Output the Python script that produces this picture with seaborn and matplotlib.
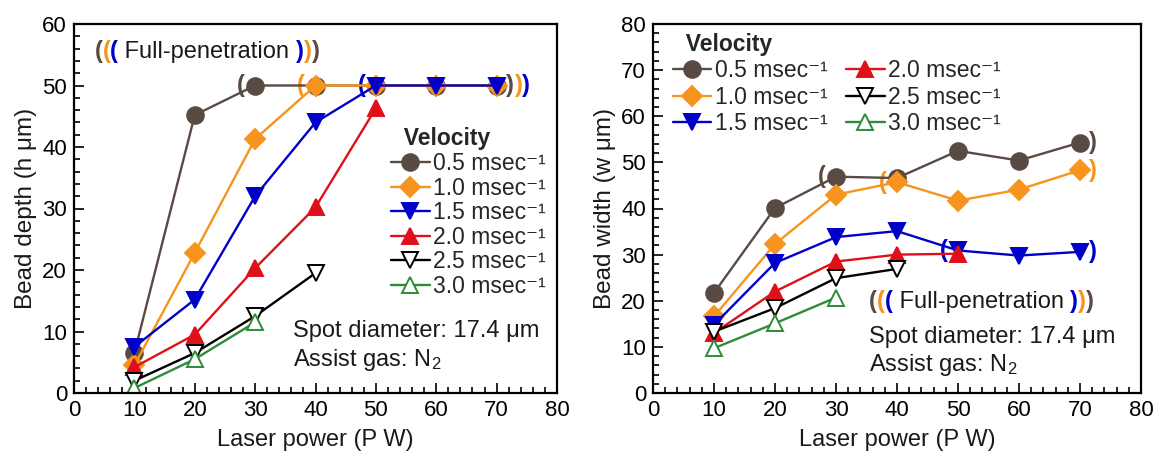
import matplotlib
matplotlib.use("Agg")
import matplotlib.pyplot as plt
from matplotlib.ticker import MultipleLocator
import seaborn as sns
import pandas as pd

# ---------------- data ----------------
power = [10, 20, 30, 40, 50, 60, 70]
labels = ["0.5 msec⁻¹", "1.0 msec⁻¹", "1.5 msec⁻¹",
          "2.0 msec⁻¹", "2.5 msec⁻¹", "3.0 msec⁻¹"]

depth_05 = [6.5, 45.2, 50, 50, 50, 50, 50]
depth_10 = [4.5, 22.8, 41.3, 50, 50, 50, 50]
depth_15 = [7.5, 15.2, 32.0, 44.0, 50, 50, 50]
depth_20 = [4.2, 9.5, 20.3, 30.2, 46.3]
depth_25 = [2.0, 6.5, 12.5, 19.5]
depth_30 = [0.8, 5.5, 11.5]

width_05 = [21.7, 40.1, 46.9, 46.6, 52.5, 50.4, 54.3]
width_10 = [16.6, 32.3, 43.0, 45.7, 41.7, 44.1, 48.3]
width_15 = [14.8, 28.2, 33.8, 35.1, 30.9, 29.8, 30.6]
width_20 = [13.0, 22.0, 28.5, 30.0, 30.2]
width_25 = [13.3, 18.4, 24.9, 26.9]
width_30 = [9.7, 15.1, 20.7]

# full-penetration bracket positions (x, y)
depth_open = [(27.6, 50), (37.6, 50), (47.6, 50)]
depth_close = [(72.2, 50), (73.7, 50), (74.9, 50)]
width_open = [(27.6, 46.9), (37.7, 45.7), (47.7, 30.9)]
width_close = [(72.1, 54.3), (72.1, 48.3), (72.1, 30.6)]

# ---------------- style ----------------
sns.set_theme(style="ticks")
plt.rcParams["font.family"] = ["Liberation Sans", "DejaVu Sans"]
plt.rcParams["mathtext.fontset"] = "custom"
plt.rcParams["mathtext.rm"] = "Liberation Sans"
plt.rcParams["mathtext.it"] = "Liberation Sans:italic"
plt.rcParams["mathtext.bf"] = "Liberation Sans:bold"

XS = 17
YS = 17.5
TS = 16
LS = 16.5
AS = 17
c_brown = "#5a4a44"
c_orange = "#f7941d"
c_blue = "#0000c8"
c_red = "#e0101a"
c_black = "#000000"
c_green = "#2e8b3a"
c_text = "#1a1a1a"

styles = [
    dict(color=c_brown, marker="o", markersize=12, markerfacecolor=c_brown, markeredgecolor=c_brown),
    dict(color=c_orange, marker="D", markersize=10, markerfacecolor=c_orange, markeredgecolor=c_orange),
    dict(color=c_blue, marker="v", markersize=12, markerfacecolor=c_blue, markeredgecolor=c_blue),
    dict(color=c_red, marker="^", markersize=12, markerfacecolor=c_red, markeredgecolor=c_red),
    dict(color=c_black, marker="v", markersize=12, markerfacecolor="white", markeredgecolor=c_black),
    dict(color=c_green, marker="^", markersize=12, markerfacecolor="white", markeredgecolor=c_green),
]

W, H = 1157, 457
fig = plt.figure(figsize=(W / 100, H / 100), dpi=100)
axL = fig.add_axes([74 / W, 1 - 393 / H, (557 - 74) / W, (393 - 24) / H])
axR = fig.add_axes([653 / W, 1 - 393 / H, (1141 - 653) / W, (393 - 24) / H])


def draw(ax, series):
    for vals, lab, st in zip(series, labels, styles):
        df = pd.DataFrame({"P": power[:len(vals)], "v": vals})
        sns.lineplot(data=df, x="P", y="v", ax=ax, label=lab, linewidth=1.7,
                     markeredgewidth=1.4, **st)


def style_axes(ax, ymax, ylabel):
    ax.set_xlim(0, 80)
    ax.set_ylim(0, ymax)
    ax.xaxis.set_major_locator(MultipleLocator(10))
    ax.xaxis.set_minor_locator(MultipleLocator(2))
    ax.yaxis.set_major_locator(MultipleLocator(10))
    ax.yaxis.set_minor_locator(MultipleLocator(2))
    ax.tick_params(which="both", direction="in", top=False, right=False,
                   labelsize=TS, colors="black", width=1.2, pad=5)
    ax.tick_params(which="major", length=7)
    ax.tick_params(which="minor", length=4)
    for s in ax.spines.values():
        s.set_linewidth(1.6)
        s.set_color("black")
    ax.set_xlabel("Laser power (P W)", fontsize=XS, labelpad=6, color=c_text)
    ax.set_ylabel(ylabel, fontsize=YS, labelpad=4, color=c_text)


def brackets(ax, opens, closes, colors):
    for (x, y), c in zip(opens, colors):
        ax.text(x, y, "(", color=c, fontsize=AS, fontweight="bold",
                ha="center", va="center", zorder=1)
    for (x, y), c in zip(closes, colors):
        ax.text(x, y, ")", color=c, fontsize=AS, fontweight="bold",
                ha="center", va="center", zorder=1)


def full_pen(ax, x, y):
    parts = [("(", c_brown, "bold"), ("(", c_orange, "bold"), ("(", c_blue, "bold"),
             (" Full-penetration ", c_text, "normal"),
             (")", c_blue, "bold"), (")", c_orange, "bold"), (")", c_brown, "bold")]
    t = None
    for s, c, w in parts:
        if t is None:
            t = ax.text(x, y, s, color=c, fontsize=AS, fontweight=w,
                        ha="left", va="center")
        else:
            t = ax.annotate(s, xy=(1, 0.5), xycoords=t, color=c, fontsize=AS,
                            fontweight=w, ha="left", va="center")


leg_kw = dict(loc="upper left", frameon=False, fontsize=LS, title="  Velocity",
              title_fontproperties={"weight": "bold", "size": LS},
              handlelength=1.7, handletextpad=0.15,
              borderpad=0, borderaxespad=0, alignment="left")

# ---------------- left: bead depth ----------------
draw(axL, [depth_05, depth_10, depth_15, depth_20, depth_25, depth_30])
style_axes(axL, 60, "Bead depth (h μm)")
brackets(axL, depth_open, depth_close, [c_brown, c_orange, c_blue])
full_pen(axL, 3.4, 55.5)
axL.text(36.2, 10.0, "Spot diameter: 17.4 μm", fontsize=AS, va="center", color=c_text)
axL.text(36.2, 5.3, "Assist gas: N$_2$", fontsize=AS, va="center", color=c_text)
axL.legend(bbox_to_anchor=(0.656, 0.72), labelspacing=0.07, **leg_kw)

# ---------------- right: bead width ----------------
draw(axR, [width_05, width_10, width_15, width_20, width_25, width_30])
style_axes(axR, 80, "Bead width (w μm)")
brackets(axR, width_open, width_close, [c_brown, c_orange, c_blue])
full_pen(axR, 35.4, 19.8)
axR.text(35.4, 12.2, "Spot diameter: 17.4 μm", fontsize=AS, va="center", color=c_text)
axR.text(35.4, 6.1, "Assist gas: N$_2$", fontsize=AS, va="center", color=c_text)
axR.legend(bbox_to_anchor=(0.04, 0.975), ncol=2, columnspacing=0.8, labelspacing=0.14, **leg_kw)

fig.savefig("out.png", dpi=100, facecolor="white")
